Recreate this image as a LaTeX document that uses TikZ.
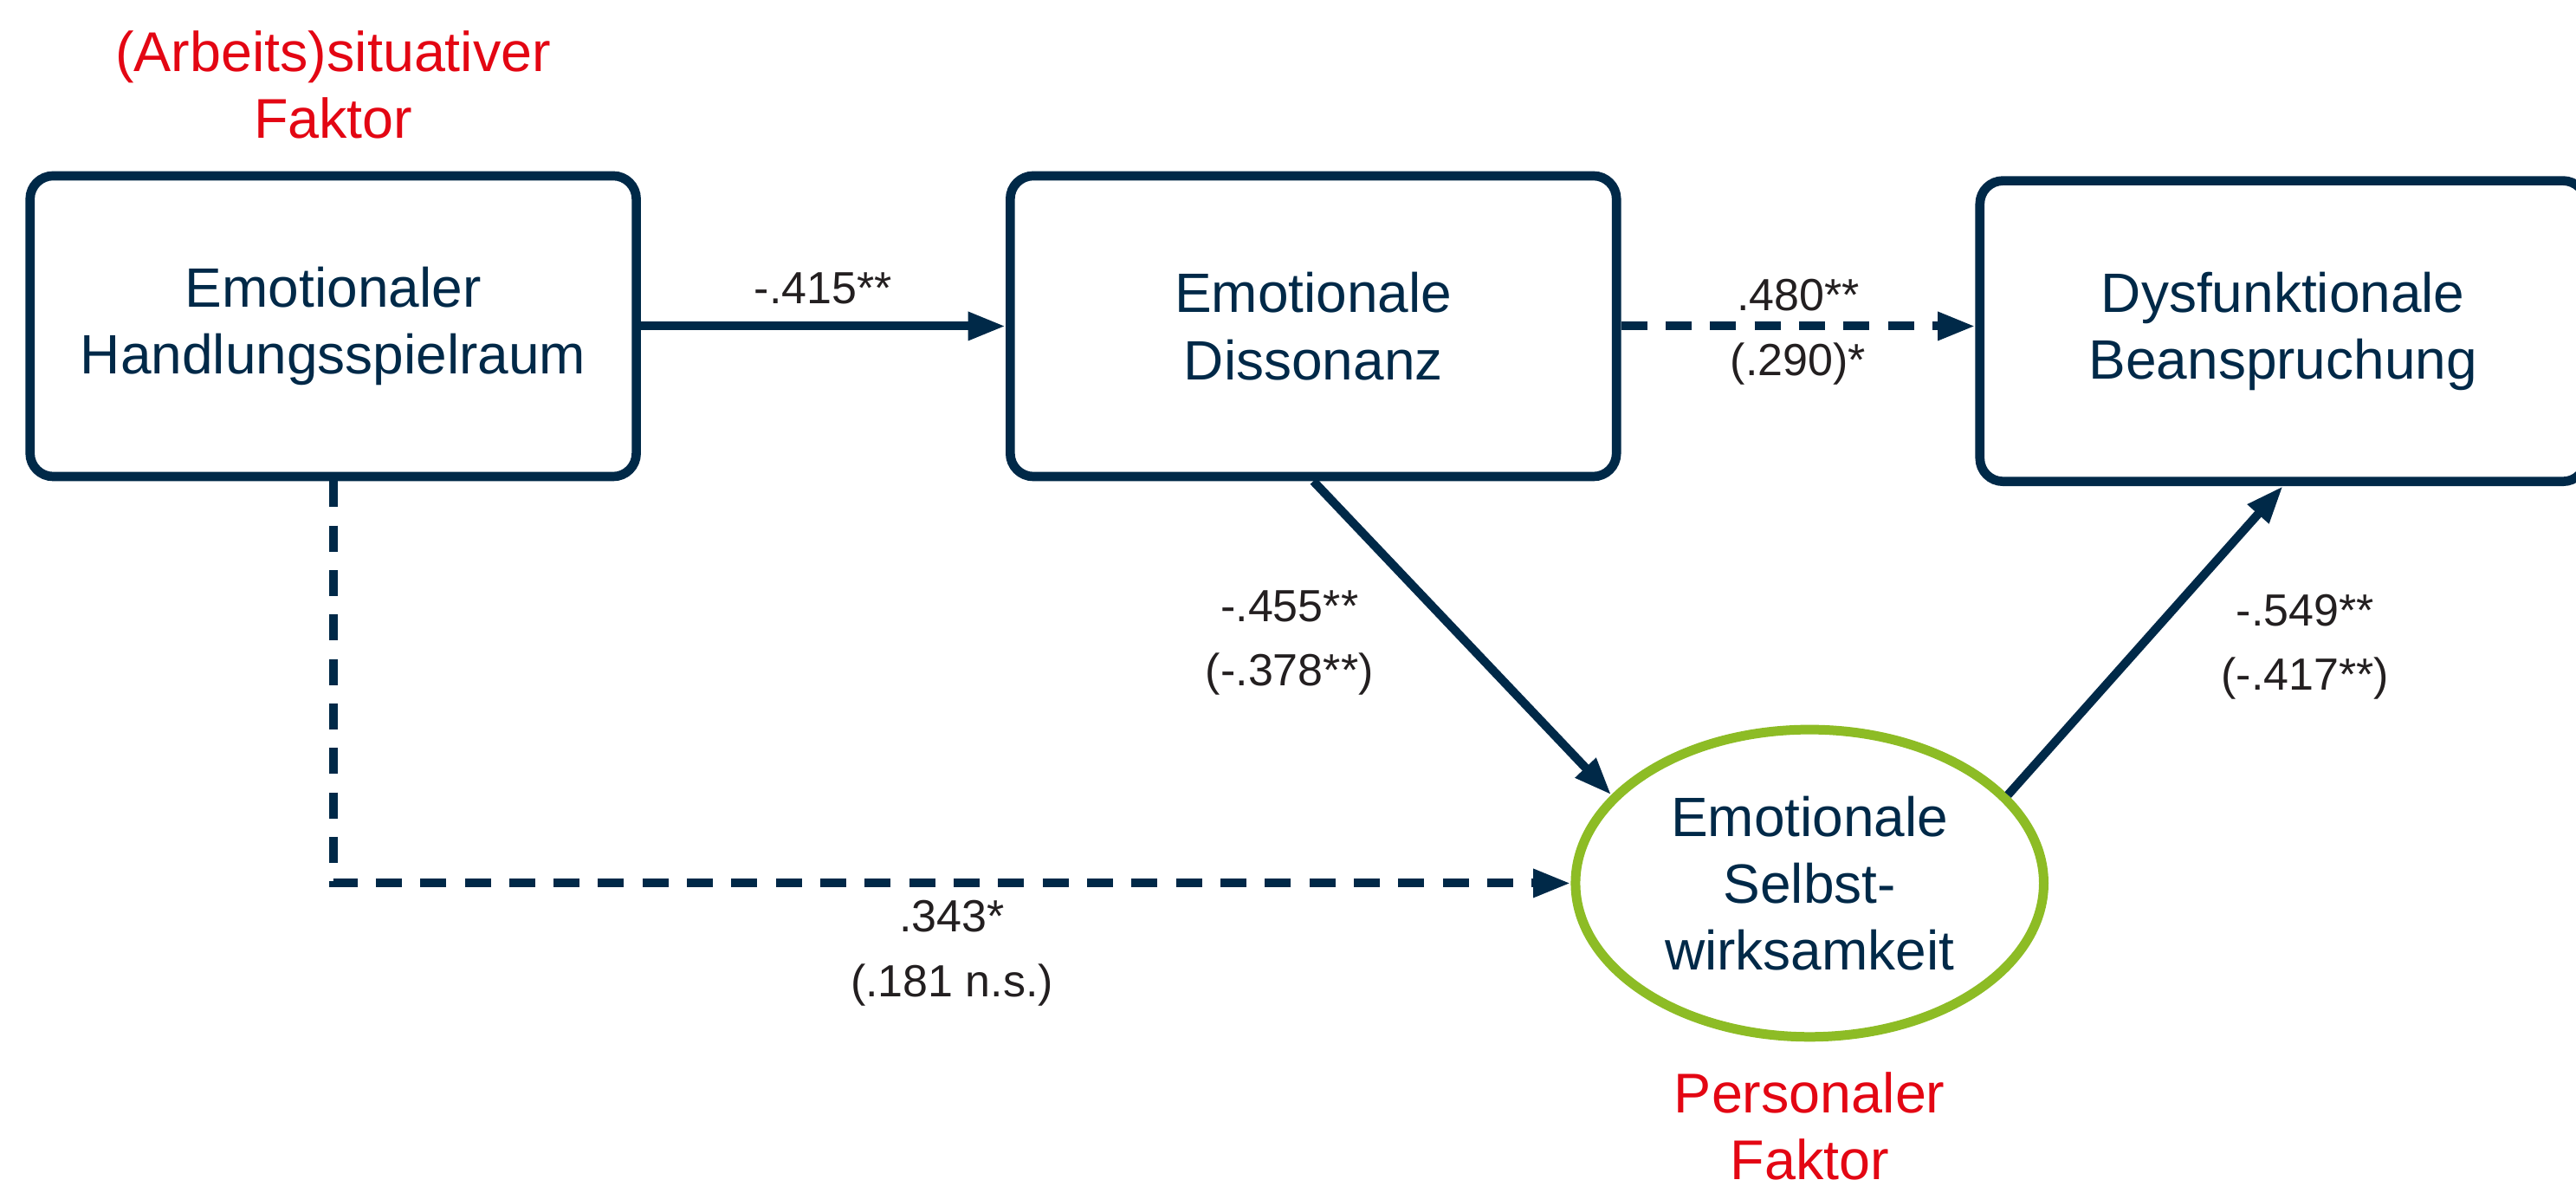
\documentclass[tikz,border=0pt]{standalone}
\usepackage{fontspec}
\setmainfont{Liberation Sans}
\usepackage{xcolor}
\usepackage{tikz}
\usetikzlibrary{arrows.meta,positioning,shapes.geometric}
\definecolor{boxnavy}{RGB}{0,41,72}
\definecolor{factorred}{RGB}{227,6,19}
\definecolor{selfgreen}{RGB}{141,188,37}
\definecolor{coefgray}{RGB}{35,31,32}

\begin{document}
\begin{tikzpicture}[
  node distance=2.2cm and 2.2cm,
  box/.style={rectangle, rounded corners=4pt, draw=boxnavy, line width=1.6pt,
    align=center, minimum width=3.69cm, minimum height=1.83cm, inner sep=0pt,
    text=boxnavy, font=\fontsize{9.6}{11.6}\selectfont},
  oval/.style={ellipse, draw=selfgreen, line width=1.65pt, align=center,
    minimum width=2.85cm, minimum height=1.87cm, inner sep=0pt,
    text=boxnavy, font=\fontsize{9.6}{11.6}\selectfont},
  factor/.style={align=center, inner sep=0pt, text=factorred,
    font=\fontsize{9.7}{11.5}\selectfont},
  arrow/.style={-{Triangle[length=6.5pt,width=4.6pt]}, line width=1.5pt, draw=boxnavy},
  dasharrow/.style={arrow, dash pattern=on 4.5pt off 3.2pt},
  coef/.style={align=center, inner sep=0pt, text=coefgray,
    font=\fontsize{7.8}{11.2}\selectfont}
]
\useasboundingbox (0,0) rectangle (15.68,-7.255);

\node[box] (sit) at (2.028,-1.985) {Emotionaler\\Handlungsspielraum};
\node[box, right=2.22cm of sit] (dis) {Emotionale\\Dissonanz};
\node[box, right=2.156cm of dis, yshift=-0.03cm] (bea) {Dysfunktionale\\Beanspruchung};
\node[oval] (ese) at (11.015,-5.375) {Emotionale\\Selbst-\\wirksamkeit};
\node[factor, above=0.19cm of sit] (sitfac) {(Arbeits)situativer\\Faktor};
\node[factor, below=0.18cm of ese] (perfac) {Personaler\\Faktor};

\draw[arrow] (sit) -- node[coef, above=0.11cm] (c1) {-.415**} (dis);
\draw[dasharrow] (dis.east) -- node[coef, yshift=-1pt] (c2) {.480**\\(.290)*} (dis.east -| bea.west);
\draw[arrow] (dis.south) -- node[coef, left=0.515cm, yshift=-0.03cm] (c3) {-.455**\\(-.378**)} (ese.156);
\draw[arrow] (ese.24) -- node[coef, right=0.435cm, yshift=-0.04cm] (c4) {-.549**\\(-.417**)} (bea.south);
\draw[dasharrow] (sit.south) |- node[coef, pos=0.75, below=0.08cm] (c5) {.343*\\(.181 n.s.)} (ese.west);

\end{tikzpicture}
\end{document}
